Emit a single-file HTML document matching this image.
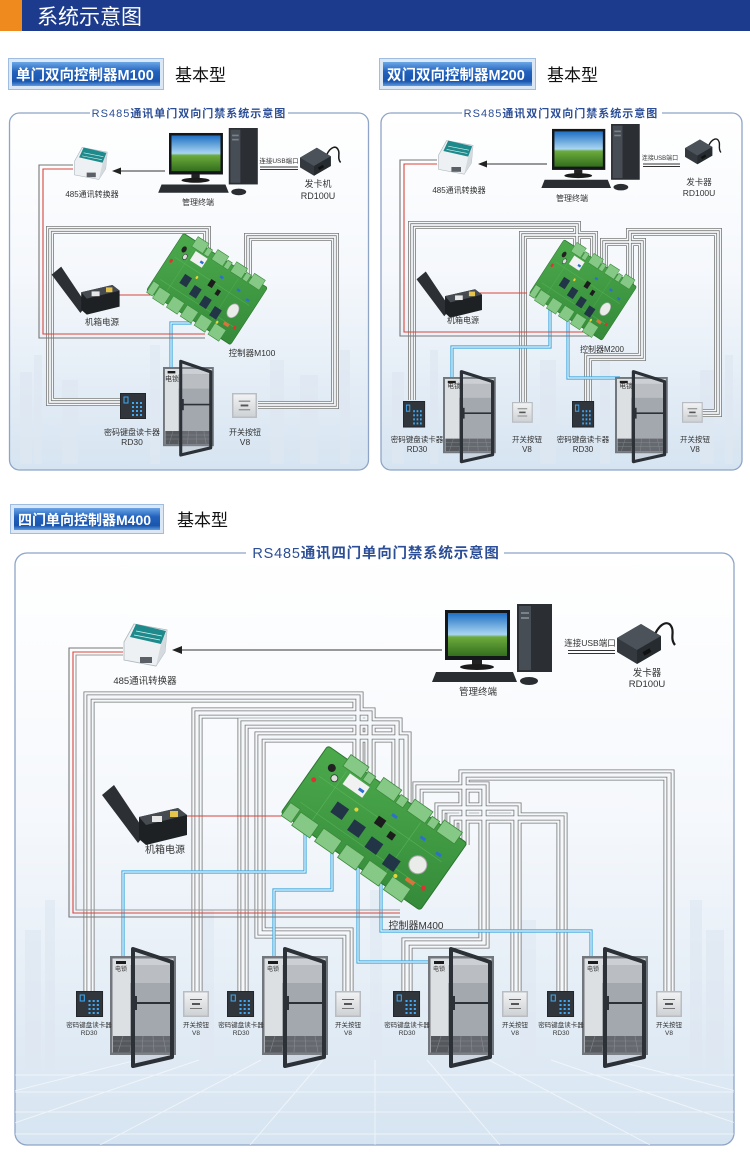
<!DOCTYPE html>
<html><head><meta charset="utf-8">
<style>
html,body{margin:0;padding:0;background:#fff;}
svg{display:block;}
text{font-family:"Liberation Sans","Noto Sans CJK SC",sans-serif;}
</style></head><body>
<svg width="750" height="1169" viewBox="0 0 750 1169" xmlns="http://www.w3.org/2000/svg">
<defs>
 <linearGradient id="pbg" x1="0" y1="0" x2="0" y2="1">
  <stop offset="0" stop-color="#ffffff"/>
  <stop offset="0.45" stop-color="#f5f8fc"/>
  <stop offset="1" stop-color="#d6e4f1"/>
 </linearGradient>
 <linearGradient id="lbl" x1="0" y1="0" x2="0" y2="1">
  <stop offset="0" stop-color="#6aa6e6"/>
  <stop offset="0.4" stop-color="#2362bd"/>
  <stop offset="0.8" stop-color="#1a55ad"/>
  <stop offset="1" stop-color="#5f9be0"/>
 </linearGradient>
 <linearGradient id="scr" x1="0" y1="0" x2="0" y2="1">
  <stop offset="0" stop-color="#1f6fc4"/>
  <stop offset="0.5" stop-color="#a9d6f2"/>
  <stop offset="0.56" stop-color="#6cab3c"/>
  <stop offset="1" stop-color="#336e1d"/>
 </linearGradient>
 <linearGradient id="pcbg" x1="0" y1="0" x2="1" y2="1">
  <stop offset="0" stop-color="#4caa4c"/>
  <stop offset="1" stop-color="#348a39"/>
 </linearGradient>
 <linearGradient id="swg" x1="0" y1="0" x2="0" y2="1">
  <stop offset="0" stop-color="#f1f2f3"/>
  <stop offset="1" stop-color="#cfd2d5"/>
 </linearGradient>
 <clipPath id="c3"><rect x="15" y="553" width="719" height="592" rx="12"/></clipPath>

 <g id="pc">
  <rect x="72" y="0" width="35" height="68" fill="#2b2f34"/>
  <rect x="74" y="2" width="12" height="64" fill="#474d55"/>
  <rect x="76" y="8" width="8" height="2" fill="#7b8188"/>
  <rect x="76" y="13" width="8" height="2" fill="#7b8188"/>
  <rect x="0" y="6" width="65" height="50" fill="#141719"/>
  <rect x="3" y="9" width="59" height="43" fill="url(#scr)"/>
  <rect x="27" y="56" width="10" height="6" fill="#222"/>
  <ellipse cx="32" cy="63" rx="17" ry="3" fill="#1b1b1b"/>
  <polygon points="-9,68 68,68 72,78 -13,78" fill="#2a2e33"/>
  <ellipse cx="84" cy="77" rx="9" ry="4" fill="#2a2e33"/>
 </g>
 <g id="conv">
  <polygon points="2,20 12,2 45,8 43,30 34,44 2,38" fill="#eef1f3" stroke="#aeb6bd" stroke-width="0.8"/>
  <polygon points="8,15 14,2 44,9 39,22" fill="#1e8a8c"/>
  <path d="M14,9 L40,14 M12,13 L38,18" stroke="#d8f0f0" stroke-width="0.8"/>
  <polygon points="34,44 43,30 45,8 39,22" fill="#d4dade"/>
  <rect x="18" y="35" width="12" height="6" fill="#5a6066"/>
 </g>
 <g id="cr">
  <path d="M38,14 C44,2 52,0 55,8 C57,13 53,19 58,25" stroke="#1a1a1a" stroke-width="2.2" fill="none"/>
  <polygon points="0,18 24,4 44,16 44,30 20,44 0,32" fill="#33393f"/>
  <polygon points="0,18 24,4 44,16 20,30" fill="#4b525a"/>
  <polygon points="20,30 44,16 44,30 20,44" fill="#262b30"/>
  <rect x="26" y="30" width="8" height="4" fill="#111" transform="rotate(-30 30 32)"/>
 </g>
 <g id="pw">
  <polygon points="2,12 14,2 46,50 38,60" fill="#2c2f33"/>
  <polygon points="39,34 78,25 87,32 87,52 46,62 39,56" fill="#1e2124"/>
  <polygon points="39,34 78,25 87,32 46,42" fill="#454b51"/>
  <rect x="52" y="33" width="10" height="6" fill="#e6e6e6"/>
  <rect x="70" y="28" width="8" height="6" fill="#e6c34a"/>
 </g>
 <g id="kp">
  <rect width="26" height="26" fill="#23272c"/>
  <rect x="1" y="1" width="24" height="24" fill="#30363c"/>
  <rect x="4" y="4" width="4" height="6" fill="none" stroke="#3fa9f5" stroke-width="1"/>
  <g fill="#3fa9f5">
   <rect x="12" y="9" width="2" height="2"/><rect x="16" y="9" width="2" height="2"/><rect x="20" y="9" width="2" height="2"/>
   <rect x="12" y="13" width="2" height="2"/><rect x="16" y="13" width="2" height="2"/><rect x="20" y="13" width="2" height="2"/>
   <rect x="12" y="17" width="2" height="2"/><rect x="16" y="17" width="2" height="2"/><rect x="20" y="17" width="2" height="2"/>
   <rect x="12" y="21" width="2" height="2"/><rect x="16" y="21" width="2" height="2"/><rect x="20" y="21" width="2" height="2"/>
  </g>
 </g>
 <g id="swc">
  <rect width="26" height="26" fill="#b9bdc1"/>
  <rect x="1.5" y="1.5" width="23" height="23" fill="url(#swg)"/>
  <rect x="7" y="8" width="12" height="1" fill="#6a6a6a"/>
  <rect x="9" y="12" width="8" height="2" fill="#555"/>
  <rect x="7" y="17" width="12" height="1" fill="#777"/>
 </g>
 <g id="door">
  <rect x="0" y="0" width="66" height="99" fill="#72777d"/>
  <rect x="2.5" y="2.5" width="61" height="94" fill="#dde0e3"/>
  <rect x="20" y="9" width="42" height="72" fill="#a6abb0"/>
  <rect x="20" y="9" width="42" height="18" fill="#c4c8cc"/>
  <polygon points="3,80 63,80 63,96.5 3,96.5" fill="#55595e"/>
  <path d="M3,85 H63 M3,90 H63 M13,80 L8,96 M23,80 L20,96 M33,80 L32,96 M43,80 L44,96 M53,80 L56,96" stroke="#80858a" stroke-width="0.6"/>
  <rect x="6" y="5" width="10" height="3" fill="#1b1b1b"/>
  <polygon points="23,-7 62,6 62,101 23,110" fill="#9aa0a6" fill-opacity="0.25" stroke="#2b3136" stroke-width="4" stroke-linejoin="round"/>
  <rect x="23" y="40" width="4" height="14" fill="#2b3136"/>
  <line x1="26" y1="47" x2="62" y2="47" stroke="#2b3136" stroke-width="2"/>
 </g>
 <g id="pcb">
  <rect x="0" y="0" width="170" height="82" rx="3" fill="url(#pcbg)" stroke="#2b7430" stroke-width="1"/>
  <path d="M10,30 H160 M10,62 H160 M30,10 V72 M120,10 V72" stroke="#66c166" stroke-width="0.6" opacity="0.6"/>
  <g fill="#86c986" stroke="#3c8a3c" stroke-width="0.8">
   <rect x="24" y="-6" width="22" height="14"/><rect x="48" y="-2" width="9" height="10"/>
   <rect x="64" y="-6" width="22" height="14"/><rect x="88" y="-2" width="9" height="10"/>
   <rect x="102" y="-6" width="22" height="14"/><rect x="126" y="-2" width="9" height="10"/>
   <rect x="138" y="-6" width="22" height="14"/>
   <rect x="2" y="68" width="12" height="16"/><rect x="16" y="70" width="22" height="16"/>
   <rect x="44" y="70" width="22" height="16"/><rect x="72" y="70" width="22" height="16"/>
   <rect x="100" y="70" width="22" height="16"/><rect x="128" y="70" width="22" height="16"/>
  </g>
  <g fill="#213547"><rect x="40" y="40" width="14" height="13"/><rect x="64" y="45" width="14" height="13"/><rect x="88" y="49" width="14" height="13"/><rect x="112" y="53" width="14" height="13"/></g>
  <circle cx="142" cy="46" r="9" fill="#e9ece9" stroke="#a8a8a8"/>
  <rect x="34" y="10" width="24" height="13" fill="#f1f1f1"/>
  <circle cx="16" cy="16" r="4" fill="#222"/>
  <circle cx="24" cy="23" r="3.5" fill="#ddd" stroke="#333" stroke-width="0.8"/>
  <rect x="82" y="28" width="9" height="9" fill="#1c1c1c"/>
  <rect x="100" y="34" width="7" height="7" fill="#1c1c1c"/>
  <circle cx="8" cy="36" r="2.5" fill="#d33"/><circle cx="160" cy="62" r="2.5" fill="#d33"/>
  <circle cx="60" cy="36" r="2" fill="#e8d23a"/><circle cx="130" cy="68" r="2" fill="#e8d23a"/>
  <g fill="#2c6fd0"><rect x="50" y="16" width="6" height="3"/><rect x="92" y="18" width="6" height="3"/><rect x="128" y="20" width="6" height="3"/><rect x="150" y="24" width="6" height="3"/></g>
  <rect x="140" y="62" width="10" height="4" fill="#d9743a"/>
 </g>

 <g id="b12" fill="none">
  <path d="M207,255 V230 H50 V402 H120"/>
  <path d="M248,280 V237 H335 V405 H258"/>
  <path d="M577,255 V225 H412 V400"/>
  <path d="M594,265 V235 H523 V402"/>
  <path d="M604,272 V242 H642 V357 H588 V401"/>
  <path d="M630,290 V232 H718 V413 H702"/>
 </g>
 <g id="b3" fill="none">
  <path d="M358,775 V697 H89 V991"/>
  <path d="M370,785 V713 H197 V991"/>
  <path d="M397,805 V723 H243 V991"/>
  <path d="M406,810 V737 H260 V933 H348 V991"/>
  <path d="M464,845 V775 H669 V991"/>
  <path d="M418,818 V787 H484 V943 H407 V991"/>
  <path d="M440,832 V808 H516 V991"/>
  <path d="M452,840 V818 H562 V991"/>
 </g>
 <g id="blu" fill="none">
  <path d="M190,312 V323 H171 V372"/>
  <path d="M550,300 V347 H452 V380"/>
  <path d="M568,312 V378 H620"/>
  <path d="M305,825 V872 H123 V962"/>
  <path d="M332,845 V890 H274 V962"/>
  <path d="M358,865 V962 H435"/>
  <path d="M381,883 V931 H591 V962"/>
 </g>
</defs>

<rect width="750" height="1169" fill="#fff"/>

<rect x="0" y="0" width="750" height="31" fill="#1c3b8c"/>
<rect x="0" y="0" width="22" height="31" fill="#ef8a1f"/>
<text x="37" y="24" font-size="21" fill="#fff">系统示意图</text>

<rect x="8.5" y="58.5" width="155" height="31" fill="#dbe7f5" stroke="#9fbde0"/>
<rect x="12" y="62" width="148" height="24" fill="url(#lbl)"/>
<text x="16" y="80" font-size="14.5" font-weight="bold" fill="#fff">单门双向控制器M100</text>
<text x="175" y="81" font-size="17" fill="#111">基本型</text>

<rect x="379.5" y="58.5" width="156" height="31" fill="#dbe7f5" stroke="#9fbde0"/>
<rect x="383" y="62" width="149" height="24" fill="url(#lbl)"/>
<text x="387" y="80" font-size="14.5" font-weight="bold" fill="#fff">双门双向控制器M200</text>
<text x="547" y="81" font-size="17" fill="#111">基本型</text>

<rect x="10.5" y="504.5" width="153" height="29" fill="#dbe7f5" stroke="#9fbde0"/>
<rect x="14" y="508" width="146" height="22" fill="url(#lbl)"/>
<text x="18" y="525" font-size="14" font-weight="bold" fill="#fff">四门单向控制器M400</text>
<text x="177" y="526" font-size="17" fill="#111">基本型</text>

<rect x="9.5" y="113" width="359" height="357" rx="10" fill="url(#pbg)" stroke="#8ea5c8" stroke-width="1.3"/>
<rect x="381" y="113" width="361" height="357" rx="10" fill="url(#pbg)" stroke="#8ea5c8" stroke-width="1.3"/>
<rect x="15" y="553" width="719" height="592" rx="12" fill="url(#pbg)" stroke="#8ea5c8" stroke-width="1.3"/>

<g fill="#dfe8f2" opacity="0.7">
 <rect x="20" y="372" width="12" height="92"/><rect x="34" y="355" width="8" height="109"/>
 <rect x="62" y="380" width="16" height="84"/><rect x="150" y="345" width="10" height="119"/>
 <rect x="270" y="360" width="14" height="104"/><rect x="300" y="375" width="18" height="89"/>
 <rect x="340" y="350" width="10" height="114"/>
 <rect x="392" y="372" width="12" height="92"/><rect x="430" y="350" width="8" height="114"/>
 <rect x="540" y="360" width="16" height="104"/><rect x="600" y="345" width="10" height="119"/>
 <rect x="700" y="370" width="14" height="94"/><rect x="725" y="355" width="8" height="109"/>
 <rect x="25" y="930" width="16" height="140"/><rect x="45" y="900" width="10" height="170"/>
 <rect x="200" y="910" width="14" height="160"/><rect x="370" y="890" width="12" height="180"/>
 <rect x="520" y="920" width="16" height="150"/><rect x="690" y="900" width="12" height="170"/>
 <rect x="706" y="930" width="18" height="140"/>
</g>
<g clip-path="url(#c3)" stroke="#ffffff" stroke-width="1" opacity="0.55" fill="none">
 <path d="M137,1060 L-200,1145 M199,1060 L-50,1145 M261,1060 L100,1145 M323,1060 L250,1145 M375,1060 L375,1145 M427,1060 L500,1145 M489,1060 L650,1145 M551,1060 L800,1145 M613,1060 L950,1145"/>
 <path d="M15,1075 H734 M15,1092 H734 M15,1112 H734 M15,1134 H734"/>
</g>

<rect x="90" y="107" width="198" height="12" fill="#fff"/>
<rect x="462" y="107" width="200" height="12" fill="#fff"/>
<rect x="246" y="545" width="258" height="16" fill="#fff"/>
<text x="189" y="117" font-size="11" letter-spacing="1" fill="#2b4e97" text-anchor="middle">RS485<tspan font-weight="bold">通讯单门双向门禁系统示意图</tspan></text>
<text x="561" y="117" font-size="11" letter-spacing="1" fill="#2b4e97" text-anchor="middle">RS485<tspan font-weight="bold">通讯双门双向门禁系统示意图</tspan></text>
<text x="376" y="558" font-size="14.5" letter-spacing="0.8" fill="#2b4e97" text-anchor="middle">RS485<tspan font-weight="bold">通讯四门单向门禁系统示意图</tspan></text>

<use href="#b12" stroke="#7a7a7a" stroke-width="8"/>
<use href="#b12" stroke="#f5f8fb" stroke-width="6.4"/>
<use href="#b12" stroke="#7a7a7a" stroke-width="3.4"/>
<use href="#b12" stroke="#f5f8fb" stroke-width="1.8"/>
<use href="#b3" stroke="#747474" stroke-width="11"/>
<use href="#b3" stroke="#f5f8fb" stroke-width="9.4"/>
<use href="#b3" stroke="#747474" stroke-width="5"/>
<use href="#b3" stroke="#f5f8fb" stroke-width="3.4"/>
<use href="#blu" stroke="#3aa6dd" stroke-width="3.2"/>
<use href="#blu" stroke="#eef6fb" stroke-width="1.2"/>
<g fill="none" stroke-width="1.1">
 <path d="M73,165 H39 V338 H205" stroke="#777"/>
 <path d="M73,169 H43 V334 H205" stroke="#d8453b"/>
 <path d="M437,160 H400 V336 H590" stroke="#777"/>
 <path d="M437,164 H404 V332 H590" stroke="#d8453b"/>
 <path d="M123,648 H69 V917 H400" stroke="#777"/>
 <path d="M123,652 H73 V913 H400" stroke="#d8453b"/>
 <path d="M123,655 H76 V910 H400" stroke="#999"/>
 <path d="M117,295 H152" stroke="#d8453b"/>
 <path d="M478,293 H527" stroke="#d8453b"/>
 <path d="M185,816 H290" stroke="#d8453b"/>
</g>

<g stroke="#333" stroke-width="1">
 <line x1="165" y1="171" x2="118" y2="171"/>
 <line x1="547" y1="164" x2="484" y2="164"/>
 <line x1="442" y1="650" x2="180" y2="650"/>
 <line x1="260" y1="167" x2="298" y2="167"/><line x1="260" y1="169.5" x2="298" y2="169.5"/>
 <line x1="643" y1="164" x2="680" y2="164"/><line x1="643" y1="166.5" x2="680" y2="166.5"/>
 <line x1="568" y1="650.5" x2="615" y2="650.5"/><line x1="568" y1="653.5" x2="615" y2="653.5"/>
</g>
<g fill="#222">
 <polygon points="112,171 121,167.5 121,174.5"/>
 <polygon points="478,164 487,160.5 487,167.5"/>
 <polygon points="172,650 182,646 182,654"/>
</g>

<use href="#pc" transform="translate(169,128) scale(0.83)"/>
<use href="#conv" transform="translate(73,146) scale(0.76)"/>
<use href="#cr" transform="translate(300,145) scale(0.7)"/>
<use href="#pw" transform="translate(50,265) scale(0.8)"/>
<use href="#pcb" transform="translate(207,289) rotate(33) scale(0.59,0.83) translate(-85,-41)"/>
<use href="#door" transform="translate(163,367) scale(0.77,0.8)"/>
<use href="#kp" transform="translate(120,393)"/>
<use href="#swc" transform="translate(232,393) scale(0.96)"/>

<use href="#pc" transform="translate(552,124) scale(0.82)"/>
<use href="#conv" transform="translate(437,139) scale(0.8)"/>
<use href="#cr" transform="translate(685,137) scale(0.62)"/>
<use href="#pw" transform="translate(415,270) scale(0.77)"/>
<use href="#pcb" transform="translate(583,290) rotate(33) scale(0.51,0.78) translate(-85,-41)"/>
<use href="#door" transform="translate(443,377) scale(0.8,0.77)"/>
<use href="#door" transform="translate(615,377) scale(0.8,0.77)"/>
<use href="#kp" transform="translate(403,401) scale(0.85,1.02)"/>
<use href="#kp" transform="translate(572,401) scale(0.85,1.02)"/>
<use href="#swc" transform="translate(512,402) scale(0.8)"/>
<use href="#swc" transform="translate(682,402) scale(0.8)"/>

<use href="#pc" transform="translate(445,604)"/>
<use href="#conv" transform="translate(122,622)"/>
<use href="#cr" transform="translate(617,620)"/>
<use href="#pw" transform="translate(100,783)"/>
<use href="#pcb" transform="translate(374,828) rotate(35) translate(-85,-41)"/>
<use href="#door" transform="translate(110,956)"/>
<use href="#door" transform="translate(262,956)"/>
<use href="#door" transform="translate(428,956)"/>
<use href="#door" transform="translate(582,956)"/>
<use href="#kp" transform="translate(76,991) scale(1.04,1)"/>
<use href="#kp" transform="translate(227,991) scale(1.04,1)"/>
<use href="#kp" transform="translate(393,991) scale(1.04,1)"/>
<use href="#kp" transform="translate(547,991) scale(1.04,1)"/>
<use href="#swc" transform="translate(183,991)"/>
<use href="#swc" transform="translate(335,991)"/>
<use href="#swc" transform="translate(502,991)"/>
<use href="#swc" transform="translate(656,991)"/>

<g fill="#333" text-anchor="middle">
 <text x="92" y="197" font-size="8">485通讯转换器</text>
 <text x="198" y="205" font-size="8">管理终端</text>
 <text x="279" y="163" font-size="6.5">连接USB端口</text>
 <text x="318" y="187" font-size="9">发卡机</text>
 <text x="318" y="199" font-size="9">RD100U</text>
 <text x="102" y="325" font-size="8.5">机箱电源</text>
 <text x="252" y="356" font-size="8.5">控制器M100</text>
 <text x="132" y="435" font-size="8">密码键盘读卡器</text>
 <text x="132" y="445" font-size="8.5">RD30</text>
 <text x="245" y="435" font-size="8">开关按钮</text>
 <text x="245" y="445" font-size="8.5">V8</text>
 <text x="172" y="381" font-size="7">电锁</text>
</g>
<g fill="#333" text-anchor="middle">
 <text x="459" y="193" font-size="8">485通讯转换器</text>
 <text x="572" y="201" font-size="8">管理终端</text>
 <text x="660" y="160" font-size="6">连接USB端口</text>
 <text x="699" y="185" font-size="8.5">发卡器</text>
 <text x="699" y="196" font-size="8.5">RD100U</text>
 <text x="463" y="323" font-size="8">机箱电源</text>
 <text x="602" y="352" font-size="8">控制器M200</text>
 <text x="417" y="442" font-size="7.5">密码键盘读卡器</text>
 <text x="417" y="452" font-size="8">RD30</text>
 <text x="527" y="442" font-size="7.5">开关按钮</text>
 <text x="527" y="452" font-size="8">V8</text>
 <text x="583" y="442" font-size="7.5">密码键盘读卡器</text>
 <text x="583" y="452" font-size="8">RD30</text>
 <text x="695" y="442" font-size="7.5">开关按钮</text>
 <text x="695" y="452" font-size="8">V8</text>
 <text x="454" y="388" font-size="6.5">电锁</text>
 <text x="626" y="388" font-size="6.5">电锁</text>
</g>
<g fill="#333" text-anchor="middle">
 <text x="145" y="684" font-size="9.5">485通讯转换器</text>
 <text x="478" y="695" font-size="9.5">管理终端</text>
 <text x="590" y="646" font-size="8.5">连接USB端口</text>
 <text x="647" y="676" font-size="9.5">发卡器</text>
 <text x="647" y="687" font-size="9.5">RD100U</text>
 <text x="165" y="853" font-size="10">机箱电源</text>
 <text x="416" y="929" font-size="10">控制器M400</text>
 <g font-size="6.5">
  <text x="89" y="1027">密码键盘读卡器</text><text x="89" y="1035">RD30</text>
  <text x="241" y="1027">密码键盘读卡器</text><text x="241" y="1035">RD30</text>
  <text x="407" y="1027">密码键盘读卡器</text><text x="407" y="1035">RD30</text>
  <text x="561" y="1027">密码键盘读卡器</text><text x="561" y="1035">RD30</text>
  <text x="196" y="1027">开关按钮</text><text x="196" y="1035">V8</text>
  <text x="348" y="1027">开关按钮</text><text x="348" y="1035">V8</text>
  <text x="515" y="1027">开关按钮</text><text x="515" y="1035">V8</text>
  <text x="669" y="1027">开关按钮</text><text x="669" y="1035">V8</text>
 </g>
 <g font-size="6">
  <text x="121" y="971">电锁</text><text x="273" y="971">电锁</text>
  <text x="439" y="971">电锁</text><text x="593" y="971">电锁</text>
 </g>
</g>
</svg>
</body></html>
